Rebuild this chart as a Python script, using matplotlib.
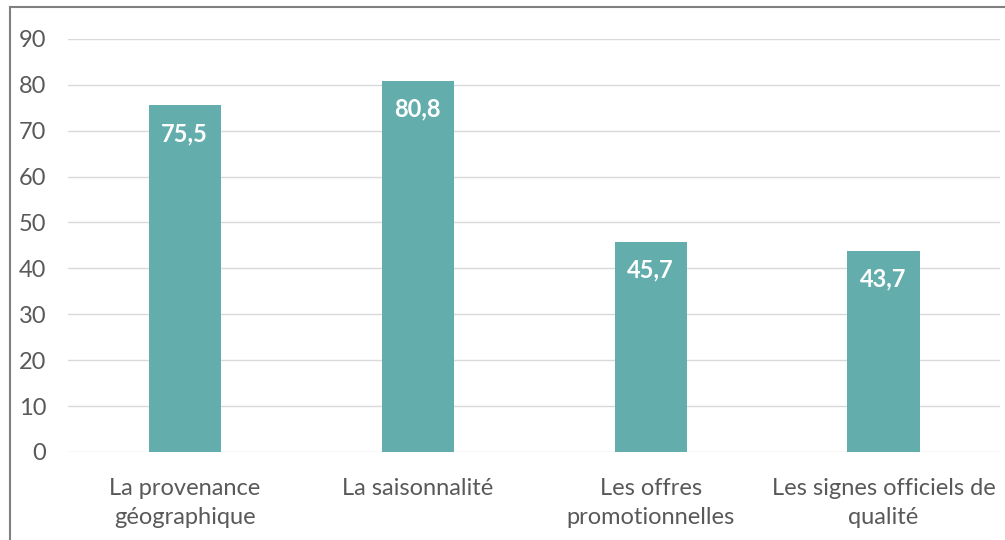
import matplotlib.pyplot as plt
from matplotlib.lines import Line2D

categories = ["La provenance\ngéographique", "La saisonnalité",
              "Les offres\npromotionnelles", "Les signes officiels de\nqualité"]
values = [75.5, 80.8, 45.7, 43.7]
value_labels = ["75,5", "80,8", "45,7", "43,7"]
yticks = [0, 10, 20, 30, 40, 50, 60, 70, 80, 90]

plt.rcParams['font.family'] = ['Lato', 'DejaVu Sans']

fig = plt.figure(figsize=(10.05, 5.4), dpi=100)
ax = fig.add_axes([0.068, 0.163, 0.927, 0.765])

x = list(range(len(categories)))
bars = ax.bar(x, values, width=0.31, color='#63adad', zorder=3)

for b, lab in zip(bars, value_labels):
    ax.text(b.get_x() + b.get_width() / 2, b.get_height() - 3.6, lab,
            ha='center', va='top', color='white', fontsize=17,
            fontweight='bold', zorder=4)

ax.set_xlim(-0.5, len(categories) - 0.5)
ax.set_ylim(0, 90)
ax.set_yticks(yticks)
ax.set_xticks(x)
ax.set_xticklabels(categories, fontsize=17, color='#595959', linespacing=1.45)
ax.tick_params(axis='y', labelsize=17, labelcolor='#595959', length=0, pad=16)
ax.tick_params(axis='x', length=0, pad=19)
ax.grid(axis='y', color='#d9d9d9', linewidth=1, zorder=0)
for s in ax.spines.values():
    s.set_visible(False)

# gray frame on top and left edges
fig.add_artist(Line2D([10 / 1005, 10 / 1005], [0, 1 - 7 / 540],
                      transform=fig.transFigure, color='#808080', linewidth=1.5))
fig.add_artist(Line2D([10 / 1005, 1], [1 - 7 / 540, 1 - 7 / 540],
                      transform=fig.transFigure, color='#808080', linewidth=1.5))

fig.savefig('out.png', dpi=100)
